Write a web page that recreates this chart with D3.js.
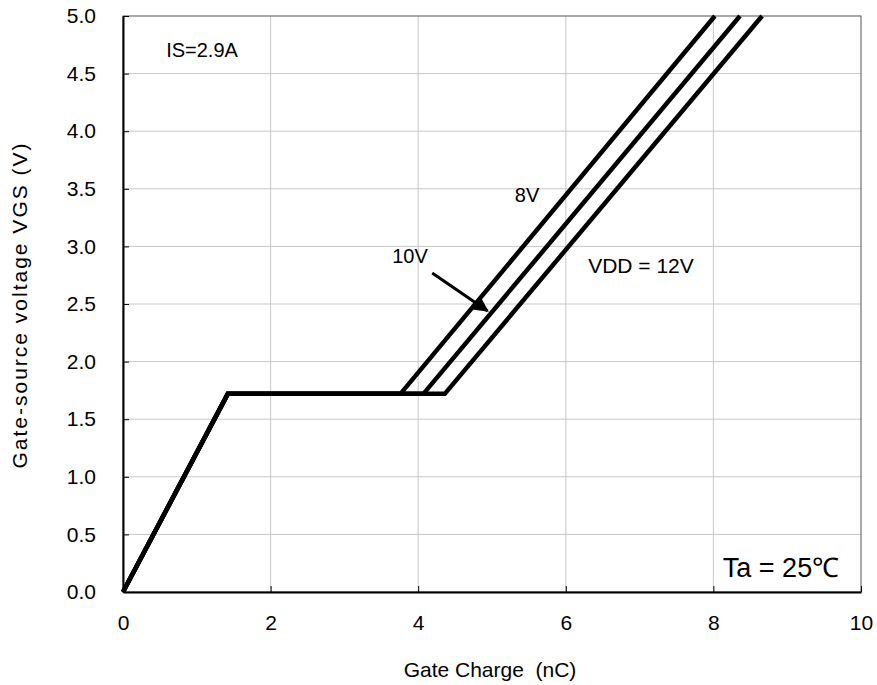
<!DOCTYPE html>
<html>
<head>
<meta charset="utf-8">
<script src="https://cdn.jsdelivr.net/npm/d3@7"></script>
<style>
  body { margin: 0; background: #fff; }
  text { font-family: "Liberation Sans", Arial, sans-serif; fill: #000; }
</style>
</head>
<body>
<script>
// gate charge curves
var vdd8 = [[0, 0], [1.42, 1.72], [3.76, 1.72], [8.02, 5.0]]
var vdd10 = [[0, 0], [1.42, 1.72], [4.07, 1.72], [8.36, 5.0]]
var vdd12 = [[0, 0], [1.42, 1.72], [4.36, 1.72], [8.66, 5.0]]
var xTicks = [0, 2, 4, 6, 8, 10]
var yTicks = [0, 0.5, 1, 1.5, 2, 2.5, 3, 3.5, 4, 4.5, 5]
var arrow10 = [[4.19, 2.77], [4.94, 2.44]]

var W = 877, H = 685
var pLeft = 123, pRight = 861, pTop = 16, pBottom = 592

var svg = d3.select('body').append('svg')
  .attr('width', W)
  .attr('height', H)

var x = d3.scaleLinear().domain([0, 10]).range([pLeft, pRight])
var y = d3.scaleLinear().domain([0, 5]).range([pBottom, pTop])

svg.append('defs').append('marker')
  .attr('id', 'head')
  .attr('viewBox', '0 0 10 10')
  .attr('refX', 9).attr('refY', 5)
  .attr('markerWidth', 5).attr('markerHeight', 5)
  .attr('orient', 'auto')
  .append('path').attr('d', 'M0,0L10,5L0,10z').attr('fill', '#000')

// grid
svg.append('g').selectAll('line')
  .data(xTicks.slice(1, -1))
  .enter().append('line')
  .attr('x1', function (d) { return x(d) }).attr('x2', function (d) { return x(d) })
  .attr('y1', pTop).attr('y2', pBottom)
  .attr('stroke', '#c8c8c8').attr('stroke-width', 1)

svg.append('g').selectAll('line')
  .data(yTicks.slice(1, -1))
  .enter().append('line')
  .attr('y1', function (d) { return y(d) }).attr('y2', function (d) { return y(d) })
  .attr('x1', pLeft).attr('x2', pRight)
  .attr('stroke', '#c8c8c8').attr('stroke-width', 1)

// frame: thin top/right, heavy left/bottom
svg.append('rect')
  .attr('x', pLeft).attr('y', pTop)
  .attr('width', pRight - pLeft).attr('height', pBottom - pTop)
  .attr('fill', 'none').attr('stroke', '#555').attr('stroke-width', 1)

var xAxis = svg.append('g')
  .attr('transform', 'translate(0,' + pBottom + ')')
  .call(d3.axisBottom(x).tickValues(xTicks).tickSize(-6).tickSizeOuter(0).tickPadding(23).tickFormat(d3.format('d')))
xAxis.select('.domain').attr('stroke', '#000').attr('stroke-width', 2)
xAxis.selectAll('.tick line').attr('stroke', '#000')
xAxis.selectAll('text').style('font-size', '21px')

var yAxis = svg.append('g')
  .attr('transform', 'translate(' + pLeft + ',0)')
  .call(d3.axisLeft(y).tickValues(yTicks).tickSize(-6).tickSizeOuter(0).tickPadding(27).tickFormat(d3.format('.1f')))
yAxis.select('.domain').attr('stroke', '#000').attr('stroke-width', 2)
yAxis.selectAll('.tick line').attr('stroke', '#000')
yAxis.selectAll('text').style('font-size', '21px')

// curves
var line = d3.line()
  .x(function (d) { return x(d[0]) })
  .y(function (d) { return y(d[1]) })

svg.append('g').selectAll('path')
  .data([vdd12, vdd10, vdd8])
  .enter().append('path')
  .attr('d', line)
  .attr('fill', 'none')
  .attr('stroke', '#000')
  .attr('stroke-width', 4.5)
  .attr('stroke-linejoin', 'miter')

svg.append('path')
  .attr('d', line(arrow10))
  .attr('stroke', '#000')
  .attr('stroke-width', 3)
  .attr('marker-end', 'url(#head)')

// annotations
function note (t, px, py, size) {
  return svg.append('text')
    .attr('x', px).attr('y', py)
    .attr('text-anchor', 'middle')
    .style('font-size', size + 'px')
    .text(t)
}
note('IS=2.9A', 202, 57, 20)
note('8V', 527, 202, 20)
note('10V', 410, 263, 20)
note('VDD = 12V', 641, 273, 21)
note('Ta = 25\u2103', 781, 577, 27)

svg.append('text')
  .attr('x', 490).attr('y', 677)
  .attr('text-anchor', 'middle')
  .style('font-size', '21px')
  .style('white-space', 'pre')
  .text('Gate Charge  (nC)')

svg.append('text')
  .attr('transform', 'translate(27,305) rotate(-90)')
  .attr('text-anchor', 'middle')
  .style('font-size', '21px')
  .style('letter-spacing', '2px')
  .text('Gate-source voltage VGS (V)')
</script>
</body>
</html>
